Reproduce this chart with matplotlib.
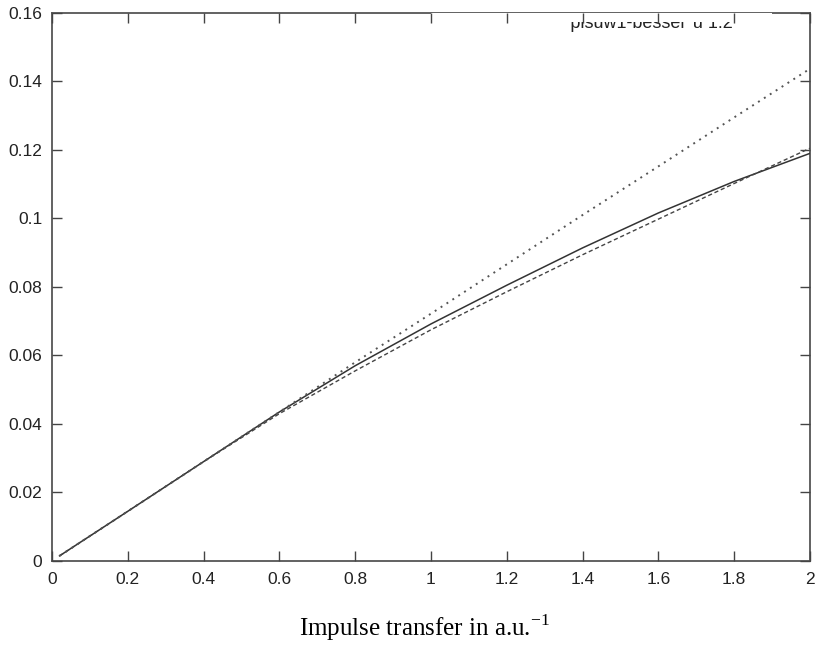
import numpy as np
import matplotlib.pyplot as plt
from matplotlib.patches import Rectangle

plt.rcParams["mathtext.fontset"] = "custom"
plt.rcParams["mathtext.rm"] = "Liberation Serif"

q = [0.02, 0.2, 0.4, 0.6, 0.8, 1.0, 1.2, 1.4, 1.6, 1.8, 2.0]
solid = [0.0015, 0.0145, 0.029, 0.0435, 0.057, 0.0692, 0.0805, 0.0914, 0.1016, 0.1108, 0.119]
dashed = [0.0015, 0.0145, 0.029, 0.043, 0.0555, 0.0675, 0.0786, 0.0894, 0.0998, 0.1102, 0.1205]
dotted = [0.0015, 0.0145, 0.029, 0.0435, 0.058, 0.0722, 0.0866, 0.101, 0.1152, 0.1295, 0.1437]

xticks = [0, 0.2, 0.4, 0.6, 0.8, 1, 1.2, 1.4, 1.6, 1.8, 2]
xlabels = ["0", "0.2", "0.4", "0.6", "0.8", "1", "1.2", "1.4", "1.6", "1.8", "2"]
yticks = [0, 0.02, 0.04, 0.06, 0.08, 0.1, 0.12, 0.14, 0.16]
ylabels = ["0", "0.02", "0.04", "0.06", "0.08", "0.1", "0.12", "0.14", "0.16"]

fig = plt.figure(figsize=(8.17, 6.46), dpi=100)
ax = fig.add_axes([0.0636, 0.1316, 0.9278, 0.8484])

ax.plot(q, solid, color="#333333", lw=1.1, zorder=3)
ax.plot(q, dashed, color="#444444", lw=1.0, dashes=(3, 2), zorder=3)
ax.plot(q, dotted, color="#555555", lw=1.4, dashes=(1, 2.6), zorder=3)

ax.set_xlim(0, 2)
ax.set_ylim(0, 0.16)
ax.set_xticks(xticks)
ax.set_xticklabels(xlabels)
ax.set_yticks(yticks)
ax.set_yticklabels(ylabels)
ax.tick_params(direction="in", length=7, width=1, color="#444444",
               top=True, right=True, labelsize=12.5)
ax.tick_params(axis="x", pad=8)
ax.tick_params(axis="y", pad=7)
for lab in ax.get_xticklabels() + ax.get_yticklabels():
    lab.set_family("Liberation Sans")
    lab.set_color("#222222")
for s in ax.spines.values():
    s.set_color("#555555")
    s.set_linewidth(1.3)

# key text, top half hidden as in the original
ax.text(0.898, 0.973, "'pisuw1-bessel' u 1:2", transform=ax.transAxes,
        ha="right", va="baseline", fontsize=13, family="Liberation Sans",
        color="#222222", zorder=4)
ax.add_patch(Rectangle((0.5, 0.9836), 0.45, 0.02, transform=ax.transAxes,
                       facecolor="white", edgecolor="none", zorder=5))
ax.xaxis.set_zorder(6)
ax.yaxis.set_zorder(6)

fig.text(0.52, 10 / 646, "Impulse transfer in a.u.$^{-1}$", ha="center",
         va="baseline", fontsize=18, family="Liberation Serif")

fig.savefig("out.png", dpi=100)
